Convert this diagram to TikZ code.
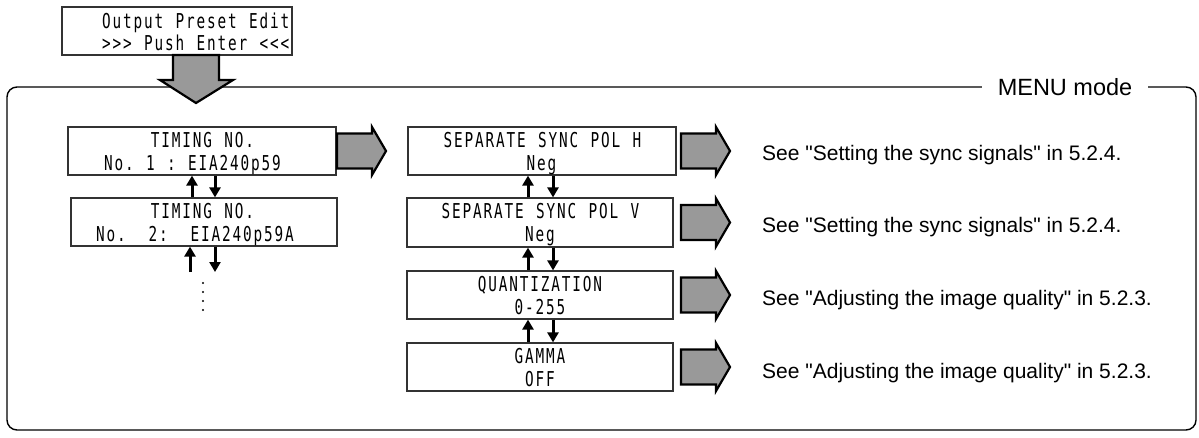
\documentclass[tikz,border=0pt]{standalone}
\usepackage{fontspec}
\setmainfont{Liberation Sans}[Ligatures=TeXOff]
\newfontfamily\lcdfont{DejaVu Sans Mono}[FakeStretch=0.7]
\usetikzlibrary{arrows.meta,calc}

% LCD style text: every character sits in a fixed 10.5pt cell
\makeatletter
\newcommand\lcdtext[1]{\@tfor\lcd@c:=#1\do{\hbox to 10.5pt{\hss\lcd@c\hss}}}
\makeatother

\begin{document}
\begin{tikzpicture}[x=1pt,y=-1pt,
  lcdbox/.style={draw=black!80,line width=1.2pt,fill=white,inner sep=0pt},
  lcd/.style={font=\lcdfont\fontsize{20.5}{23}\selectfont,anchor=base,inner sep=0pt},
  nav/.style={line width=3pt,-{Triangle[width=11pt,length=10pt]}},
  block/.style={draw=black,line width=2.2pt,fill=black!40,line join=miter},
  note/.style={font=\fontsize{21}{24}\selectfont,anchor=base west,inner sep=0pt},
  frame/.style={draw=black,line width=1.4pt,rounded corners=10pt}]
\useasboundingbox (0,0) rectangle (1199,437);

% MENU mode frame with its label sitting on the top edge
\draw[frame] (7,87) rectangle (1196,430);
\node[fill=white,inner xsep=16pt,inner ysep=2pt,font=\fontsize{23.5}{26}\selectfont] (menu) at (1065,87) {MENU mode};

% entry display
\draw[lcdbox] (62,7) rectangle (292,55);
\node[lcd,anchor=base west] (t1) at (101,28) {\lcdtext{Output~Preset~Edit}};
\node[lcd,anchor=base west] (t2) at (101,50) {\lcdtext{>>>~Push~Enter~<<<}};

% large down arrow into the menu
\draw[block] (173,55) -- (219,55) -- (219,80) -- (233,80) -- (196,103)
  -- (160,80) -- (173,80) -- cycle;

% timing number displays
\node[lcdbox,minimum width=268pt,minimum height=48pt] (b1) at (202,151) {};
\node[lcd] (b1a) at (202.5,147) {\lcdtext{TIMING~NO.}};
\node[lcd] (b1b) at (192.5,170) {\lcdtext{No.~1~:~EIA240p59}};

\node[lcdbox,minimum width=266pt,minimum height=48pt] (b2) at (204,222) {};
\node[lcd] (b2a) at (202.5,218) {\lcdtext{TIMING~NO.}};
\node[lcd] (b2b) at (195,241) {\lcdtext{No.~~2:~~EIA240p59A}};

% settings displays
\node[lcdbox,minimum width=268pt,minimum height=48pt] (m1) at (542,151) {};
\node[lcd] (m1a) at (542.5,147) {\lcdtext{SEPARATE~SYNC~POL~H}};
\node[lcd] (m1b) at (541.5,170) {\lcdtext{Neg}};

\node[lcdbox,minimum width=266pt,minimum height=49pt] (m2) at (540,222.5) {};
\node[lcd] (m2a) at (540.5,218) {\lcdtext{SEPARATE~SYNC~POL~V}};
\node[lcd] (m2b) at (540,241) {\lcdtext{Neg}};

\node[lcdbox,minimum width=266pt,minimum height=48pt] (m3) at (540,295) {};
\node[lcd] (m3a) at (540,291) {\lcdtext{QUANTIZATION}};
\node[lcd] (m3b) at (540,314) {\lcdtext{0-255}};

\node[lcdbox,minimum width=266pt,minimum height=48pt] (m4) at (540,367) {};
\node[lcd] (m4a) at (540,363) {\lcdtext{GAMMA}};
\node[lcd] (m4b) at (540,386) {\lcdtext{OFF}};

% up/down navigation between displays
\coordinate (lu) at (192,0);
\coordinate (ld) at (215,0);
\coordinate (ru) at (528,0);
\coordinate (rd) at (553,0);
\coordinate (lu3) at (190,272);
\coordinate (ld3) at (215,272);

\draw[nav] (b2.north -| lu) -- (b1.south -| lu);
\draw[nav] (b1.south -| ld) -- (b2.north -| ld);
\draw[nav] (lu3) -- (b2.south -| lu3);
\draw[nav] (b2.south -| ld3) -- (ld3);

\draw[nav] (m2.north -| ru) -- (m1.south -| ru);
\draw[nav] (m1.south -| rd) -- (m2.north -| rd);
\draw[nav] (m3.north -| ru) -- (m2.south -| ru);
\draw[nav] (m2.south -| rd) -- (m3.north -| rd);
\draw[nav] (m4.north -| ru) -- (m3.south -| ru);
\draw[nav] (m3.south -| rd) -- (m4.north -| rd);

% continuation dots
\foreach \yy in {283,292,301,310}
  \fill (203,\yy) circle (1.1pt);

% block arrows to the right
\newcommand\sidearrow[2]{%
  \draw[block] (#1,#2-17.5) -- ++(35,0) -- ++(0,-6.5) -- ++(14,24)
    -- ++(-14,24) -- ++(0,-6.5) -- ++(-35,0) -- cycle;}
\sidearrow{337}{151}
\sidearrow{681}{151}
\sidearrow{681}{222.5}
\sidearrow{681}{295}
\sidearrow{681}{367}

% cross references
\node[note] (n1) at (762,160) {See "Setting the sync signals" in 5.2.4.};
\node[note] (n2) at (762,232) {See "Setting the sync signals" in 5.2.4.};
\node[note] (n3) at (762,305) {See "Adjusting the image quality" in 5.2.3.};
\node[note] (n4) at (762,378) {See "Adjusting the image quality" in 5.2.3.};
\end{tikzpicture}
\end{document}
